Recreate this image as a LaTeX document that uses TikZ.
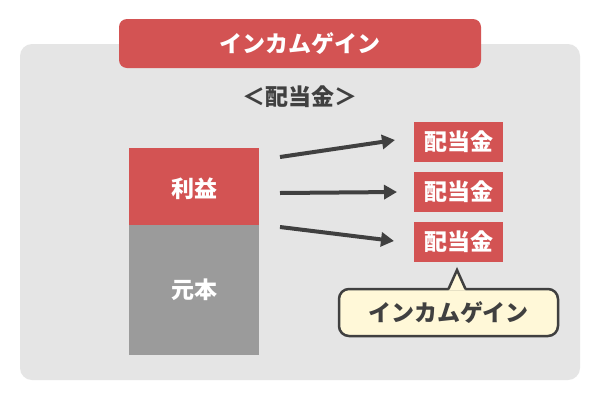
\documentclass[tikz,border=0pt]{standalone}
\usepackage{fontspec}
\setmainfont{Noto Sans CJK JP}
\usetikzlibrary{arrows.meta}
\definecolor{redc}{HTML}{D35353}
\definecolor{panel}{HTML}{E5E5E5}
\definecolor{boxgray}{HTML}{9B9B9B}
\definecolor{dark}{HTML}{404040}
\definecolor{cfill}{HTML}{FFF8D8}
\tikzset{
  bigfont/.style={font=\bfseries\fontsize{23}{27}\selectfont},
  redbox/.style={fill=redc, text=white, bigfont, inner sep=0pt},
  arr/.style={draw=dark, line width=4pt, -{Triangle[length=13pt,width=14pt]}},
}
\begin{document}
\begin{tikzpicture}[x=1pt,y=-1pt]
\useasboundingbox (0,0) rectangle (600,400);
\fill[white] (0,0) rectangle (600,400);
\fill[panel, rounded corners=12pt] (20,44) rectangle (580,380);
\node[redbox, rounded corners=8pt, minimum width=362pt, minimum height=49pt] (title) at (300,43.5) {インカムゲイン};
\node[text=dark, bigfont, inner sep=0pt] (sub) at (300,97) {＜配当金＞};
\fill[redc] (129,148) rectangle (259,225.5);
\node[text=white, bigfont, inner sep=0pt] (rieki) at (194,189) {利益};
\node[fill=boxgray, text=white, bigfont, inner sep=0pt, minimum width=130pt, minimum height=130pt] (ganpon) at (194,290) {元本};
\node[redbox, minimum width=89pt, minimum height=40pt] (d1) at (458.5,142) {配当金};
\node[redbox, minimum width=89pt, minimum height=40pt] (d2) at (458.5,192) {配当金};
\node[redbox, minimum width=89pt, minimum height=40pt] (d3) at (458.5,242) {配当金};
\coordinate (s1) at (280,157);
\coordinate (s2) at (280,193);
\coordinate (s3) at (280,227);
\coordinate (e1) at (395,140);
\coordinate (e2) at (397,192);
\coordinate (e3) at (394,241);
\draw[arr] (s1) -- (e1);
\draw[arr] (s2) -- (e2);
\draw[arr] (s3) -- (e3);
\node[draw=dark, line width=2.5pt, fill=cfill, rounded corners=10pt, text=dark, bigfont, inner sep=0pt, minimum width=219pt, minimum height=47pt] (callout) at (448.5,312.5) {インカムゲイン};
\coordinate (tip) at (457,270);
\fill[cfill] (448.5,290.6) -- (tip) -- (465.5,290.6) -- cycle;
\draw[dark, line width=2.5pt, line join=miter] (448.5,289) -- (tip) -- (465.5,289);
\end{tikzpicture}
\end{document}
